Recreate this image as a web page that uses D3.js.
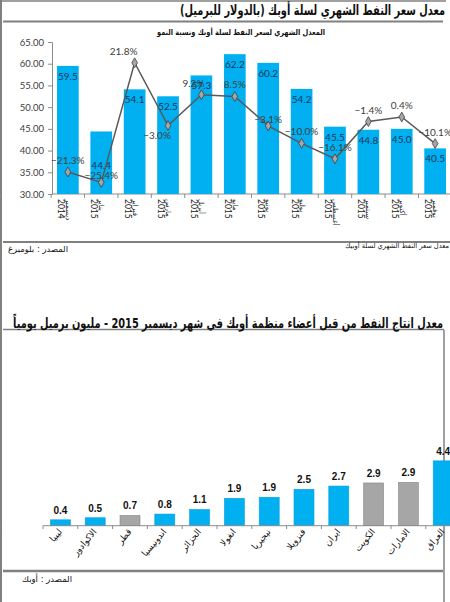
<!DOCTYPE html>
<html>
<head>
<meta charset="utf-8">
<script src="https://cdn.jsdelivr.net/npm/d3@7"></script>
<style>
  body { margin: 0; background: #fff; }
  svg { display: block; }
</style>
</head>
<body>
<svg class="chart"></svg>
<script>
document.addEventListener("DOMContentLoaded", function() {

    // Chart 1: monthly OPEC basket price + growth
    var months = ["ديسمبر", "يناير", "فبراير", "مارس", "أبريل", "مايو", "يونيو", "يوليو", "أغسطس", "سبتمبر", "أكتوبر", "نوفمبر"];
    var years = ["2014", "2015", "2015", "2015", "2015", "2015", "2015", "2015", "2015", "2015", "2015", "2015"];
    var prices = [59.5, 44.4, 54.1, 52.5, 57.3, 62.2, 60.2, 54.2, 45.5, 44.8, 45.0, 40.5];
    var growth = [-21.3, -25.4, 21.8, -3.0, 9.2, 8.5, -3.1, -10.0, -16.1, -1.4, 0.4, -10.1];
    var priceTicks = [30, 35, 40, 45, 50, 55, 60, 65];

    // Chart 2: December 2015 production, million b/d
    var countries = ["ليبيا", "الاكوادور", "قطر", "اندونيسيا", "الجزائر", "انغولا", "نيجيريا", "فنزويلا", "ايران", "الكويت", "الامارات", "العراق"];
    var production = [0.4, 0.54, 0.7, 0.79, 1.1, 1.86, 1.93, 2.47, 2.69, 2.9, 2.94, 4.4];
    var grayCountries = ["قطر", "الكويت", "الامارات"];

    var W = 450, H = 602;
    var arabicFont = "'DejaVu Sans', sans-serif";
    var numFont = "Lato, 'Open Sans', sans-serif";
    var blue = "#00b0f0";
    var axisGray = "#8c8c8c";

    var svg = d3.select('svg.chart')
        .attr('width', W)
        .attr('height', H)
        .style('background', '#fff');

    // frame lines
    var frame = svg.append("g").attr("stroke", "#808080").attr("fill", "none");
    frame.append("line").attr("x1", 1).attr("x2", 1).attr("y1", 0).attr("y2", H).attr("stroke-width", 2);
    frame.append("line").attr("x1", 0).attr("x2", 446).attr("y1", 1).attr("y2", 1).attr("stroke-width", 1.5);
    frame.append("line").attr("x1", 3).attr("x2", 443).attr("y1", 21.5).attr("y2", 21.5).attr("stroke-width", 2);
    frame.append("line").attr("x1", 3).attr("x2", W).attr("y1", 242).attr("y2", 242).attr("stroke-width", 2);
    frame.append("line").attr("x1", 3).attr("x2", 444).attr("y1", 329.5).attr("y2", 329.5).attr("stroke-width", 1.5);
    frame.append("line").attr("x1", 444).attr("x2", 444).attr("y1", 330).attr("y2", H).attr("stroke-width", 1.5);
    frame.append("line").attr("x1", 3).attr("x2", 443).attr("y1", 571).attr("y2", 571).attr("stroke-width", 2.5);

    function arabicText(x, y, str, size, weight, len) {
        var t = svg.append("text")
            .attr("x", x).attr("y", y)
            .attr("direction", "rtl")
            .attr("text-anchor", "middle")
            .style("font-family", arabicFont)
            .style("font-size", size + "px")
            .style("font-weight", weight)
            .attr("fill", "#111")
            .text(str);
        if (len) t.attr("textLength", len).attr("lengthAdjust", "spacingAndGlyphs");
        return t;
    }

    // titles and notes
    arabicText(312.5, 15, "معدل سعر النفط الشهري لسلة أوبك (بالدولار للبرميل)", 14, "bold", 265);
    arabicText(241, 35, "المعدل الشهري لسعر النفط لسلة أوبك ونسبة النمو", 8, "bold", 168);
    arabicText(38, 252, "المصدر : بلومبرغ", 8.5, "normal", 60);
    arabicText(397, 248, "معدل سعر النفط الشهري لسلة أوبيك", 7, "normal", 104);
    arabicText(228, 328, "معدل انتاج النفط من قبل أعضاء منظمة أوبك في شهر ديسمبر 2015 - مليون برميل يومياً", 14, "bold", 430);
    arabicText(47, 582, "المصدر : أوبك", 8.5, "normal", 50);

    // ---------- chart 1 ----------
    var x = d3.scaleBand().domain(d3.range(prices.length))
        .range([52, 451]).paddingInner(0.35).paddingOuter(0.15);
    var y = d3.scaleLinear().domain([30, 65]).range([194, 42]);
    var y2 = d3.scaleLinear().domain([-30, 30]).range([194, 42]);
    var cx = function(i) { return x(i) + x.bandwidth() / 2; };

    var yAxis = svg.append("g")
        .attr("transform", "translate(52,0)")
        .call(d3.axisLeft(y).tickValues(priceTicks).tickFormat(d3.format(".2f")).tickSize(4).tickPadding(4));
    yAxis.select(".domain").attr("stroke", axisGray);
    yAxis.selectAll(".tick line").attr("stroke", axisGray);
    yAxis.selectAll("text").style("font-family", numFont).style("font-size", "9.5px").attr("fill", "#404040");

    svg.append("line").attr("x1", 52).attr("x2", W).attr("y1", 194).attr("y2", 194)
        .attr("stroke", axisGray);
    svg.selectAll("line.xt1")
        .data(d3.range(prices.length + 1))
        .enter().append("line")
        .attr("class", "xt1")
        .attr("x1", function(i) { return cx(i) - x.step() / 2; })
        .attr("x2", function(i) { return cx(i) - x.step() / 2; })
        .attr("y1", 194).attr("y2", 198)
        .attr("stroke", axisGray);

    svg.selectAll('rect.price')
        .data(prices)
        .enter().append('rect')
        .attr("class", "price")
        .attr('x', function(d, i) { return x(i); })
        .attr('y', function(d) { return y(d); })
        .attr('width', x.bandwidth())
        .attr('height', function(d) { return 194 - y(d); })
        .attr('fill', blue);

    svg.selectAll('text.pval')
        .data(prices)
        .enter().append('text')
        .attr("class", "pval")
        .attr('x', function(d, i) { return cx(i); })
        .attr('y', function(d, i) {
            // Jan label was pushed down below the line in the original
            return i === 1 ? y(d) + 38 : y(d) + 14;
        })
        .attr("text-anchor", "middle")
        .style("font-family", numFont).style("font-size", "10px")
        .attr("fill", "#17365d")
        .text(function(d) { return d3.format(".1f")(d); });

    // growth line
    var line = d3.line()
        .x(function(d, i) { return cx(i); })
        .y(function(d) { return y2(d); });
    svg.append("path")
        .datum(growth)
        .attr("d", line)
        .attr("fill", "none")
        .attr("stroke", "#595959")
        .attr("stroke-width", 1.5);

    svg.selectAll("path.mark")
        .data(growth)
        .enter().append("path")
        .attr("class", "mark")
        .attr("transform", function(d, i) { return "translate(" + cx(i) + "," + y2(d) + ")"; })
        .attr("d", d3.symbol(d3.symbolDiamond, 28))
        .attr("fill", "#a6a6a6")
        .attr("stroke", "#404040")
        .attr("stroke-width", 0.8);

    svg.selectAll("text.gval")
        .data(growth)
        .enter().append("text")
        .attr("class", "gval")
        .attr("x", function(d, i) {
            var shift = (i === 2 || i === 3) ? -11 : (i === 4 ? -8 : 0);
            return cx(i) + shift;
        })
        .attr("y", function(d, i) {
            if (i === 3) return y2(d) + 13;
            if (i === 1 || i === 6) return y2(d) - 3;
            return y2(d) - 8;
        })
        .attr("text-anchor", "middle")
        .style("font-family", numFont).style("font-size", "10px")
        .attr("fill", "#404040")
        .text(function(d) { return d3.format(".1f")(d) + "%"; });

    // month / year labels, rotated
    var mlab = svg.selectAll("g.mlab")
        .data(months)
        .enter().append("g")
        .attr("class", "mlab")
        .attr("transform", function(d, i) { return "translate(" + (cx(i) - 2) + ",199) rotate(90)"; });
    mlab.append("text")
        .attr("x", 0).attr("y", 0)
        .style("font-family", arabicFont).style("font-size", "7px")
        .attr("fill", "#222")
        .text(function(d) { return d; });
    mlab.append("text")
        .attr("x", 0).attr("y", 8)
        .style("font-family", numFont).style("font-size", "8.5px")
        .attr("fill", "#222")
        .text(function(d, i) { return years[i]; });

    // ---------- chart 2 ----------
    var xb = d3.scaleBand().domain(d3.range(countries.length))
        .range([43, 460.6]).paddingInner(0.425).paddingOuter(0.2125);
    var yb = d3.scaleLinear().domain([0, 5]).range([525.7, 452]);
    var bx = function(i) { return xb(i) + xb.bandwidth() / 2; };

    svg.selectAll('rect.prod')
        .data(production)
        .enter().append('rect')
        .attr("class", "prod")
        .attr('x', function(d, i) { return xb(i); })
        .attr('y', function(d) { return yb(d); })
        .attr('width', xb.bandwidth())
        .attr('height', function(d) { return yb(0) - yb(d); })
        .attr('fill', function(d, i) { return grayCountries.indexOf(countries[i]) >= 0 ? "#a6a6a6" : blue; })
        .attr('stroke', function(d, i) { return grayCountries.indexOf(countries[i]) >= 0 ? "#8a8a8a" : "#0aa0dc"; })
        .attr('stroke-width', 0.6);

    svg.append("line").attr("x1", 43).attr("x2", W).attr("y1", 525.7).attr("y2", 525.7)
        .attr("stroke", axisGray);
    svg.selectAll("line.xt2")
        .data(d3.range(countries.length + 1))
        .enter().append("line")
        .attr("class", "xt2")
        .attr("x1", function(i) { return bx(i) - xb.step() / 2; })
        .attr("x2", function(i) { return bx(i) - xb.step() / 2; })
        .attr("y1", 525.7).attr("y2", 529)
        .attr("stroke", axisGray);

    svg.selectAll('text.prodval')
        .data(production)
        .enter().append('text')
        .attr("class", "prodval")
        .attr('x', function(d, i) { return bx(i); })
        .attr('y', function(d) { return yb(d) - 6; })
        .attr("text-anchor", "middle")
        .style("font-family", "'Liberation Sans', Arial, sans-serif")
        .style("font-size", "10px").style("font-weight", "bold")
        .attr("fill", "#111")
        .text(function(d) { return d3.format(".1f")(d); });

    svg.selectAll('text.country')
        .data(countries)
        .enter().append('text')
        .attr("class", "country")
        .attr("transform", function(d, i) { return "translate(" + (bx(i) + 2) + ",532) rotate(-50)"; })
        .attr("text-anchor", "end")
        .style("font-family", arabicFont).style("font-size", "9px")
        .attr("fill", "#111")
        .text(function(d) { return d; });

});
</script>
</body>
</html>
